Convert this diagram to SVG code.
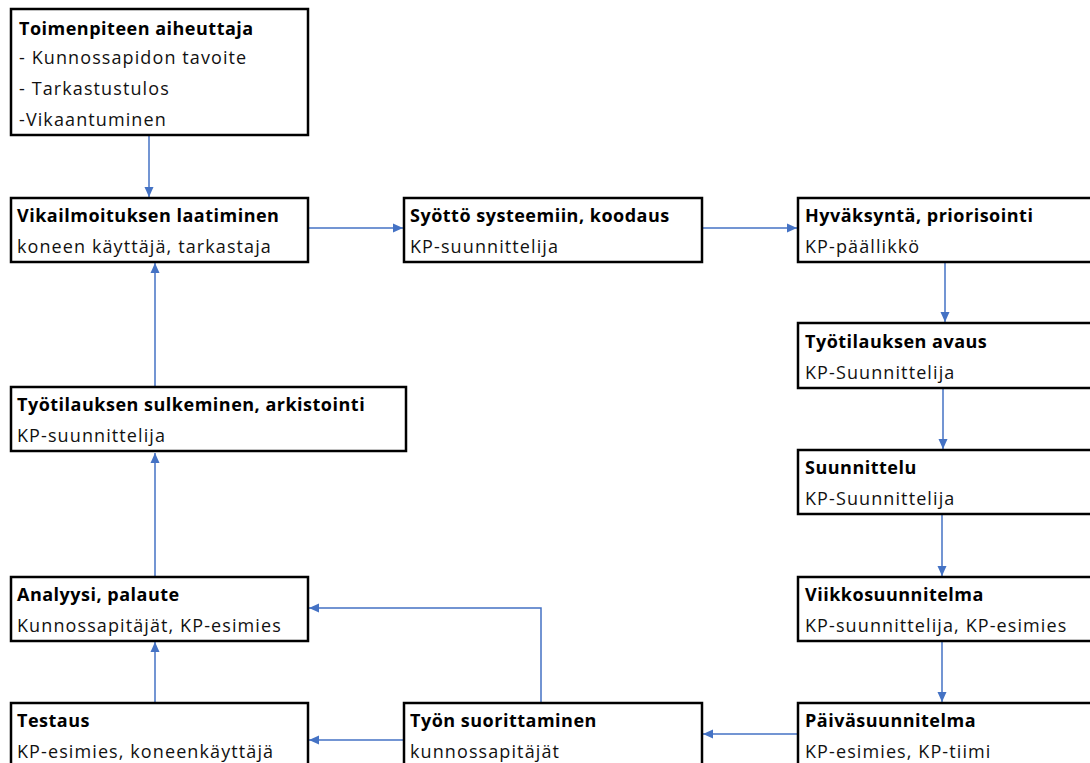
<svg xmlns="http://www.w3.org/2000/svg" width="1090" height="763" viewBox="0 0 1090 763">
<style>
.box{fill:#fff;stroke:#000;stroke-width:2.5}
.t{font-family:"Open Sans","Liberation Sans",sans-serif;font-size:18px;font-weight:bold;fill:#000;letter-spacing:0.5px}
.s{font-family:"Open Sans","Liberation Sans",sans-serif;font-size:18px;fill:#111;letter-spacing:1.1px}
.c{fill:none;stroke:#4472C4;stroke-width:1.5}
</style>
<defs>
<marker id="a" viewBox="0 0 10 10" refX="10" refY="5" markerWidth="10" markerHeight="10" markerUnits="userSpaceOnUse" orient="auto">
<path d="M0,0.5 L10,5 L0,9.5 Z" fill="#4472C4"/>
</marker>
</defs>
<g id="connectors">
<path class="c" d="M149,136 V197" marker-end="url(#a)"/>
<path class="c" d="M309,228 H403" marker-end="url(#a)"/>
<path class="c" d="M703,228 H797" marker-end="url(#a)"/>
<path class="c" d="M945,263 V322" marker-end="url(#a)"/>
<path class="c" d="M943,389 V449" marker-end="url(#a)"/>
<path class="c" d="M942,515 V576" marker-end="url(#a)"/>
<path class="c" d="M942,642 V702" marker-end="url(#a)"/>
<path class="c" d="M797,734 H703" marker-end="url(#a)"/>
<path class="c" d="M403,740 H309" marker-end="url(#a)"/>
<path class="c" d="M541,702 V608 H309" marker-end="url(#a)"/>
<path class="c" d="M155,702 V642" marker-end="url(#a)"/>
<path class="c" d="M155,576 V453" marker-end="url(#a)"/>
<path class="c" d="M155,386 V263" marker-end="url(#a)"/>
</g>
<g id="n1">
<rect class="box" x="11" y="9" width="297" height="126"/>
<text class="t" x="19" y="35">Toimenpiteen aiheuttaja</text>
<text class="s" x="19" y="64">- Kunnossapidon tavoite</text>
<text class="s" x="19" y="95">- Tarkastustulos</text>
<text class="s" x="19" y="126">-Vikaantuminen</text>
</g>
<g id="n2">
<rect class="box" x="11" y="198" width="297" height="64"/>
<text class="t" x="17" y="222">Vikailmoituksen laatiminen</text>
<text class="s" x="17" y="253">koneen käyttäjä, tarkastaja</text>
</g>
<g id="n3">
<rect class="box" x="404" y="198" width="298" height="64"/>
<text class="t" x="410" y="222">Syöttö systeemiin, koodaus</text>
<text class="s" x="410" y="253">KP-suunnittelija</text>
</g>
<g id="n4">
<rect class="box" x="798" y="198" width="300" height="64"/>
<text class="t" x="805" y="222">Hyväksyntä, priorisointi</text>
<text class="s" x="805" y="253">KP-päällikkö</text>
</g>
<g id="n5">
<rect class="box" x="798" y="323" width="300" height="65"/>
<text class="t" x="805" y="348">Työtilauksen avaus</text>
<text class="s" x="805" y="379">KP-Suunnittelija</text>
</g>
<g id="n6">
<rect class="box" x="798" y="450" width="300" height="64"/>
<text class="t" x="805" y="474">Suunnittelu</text>
<text class="s" x="805" y="505">KP-Suunnittelija</text>
</g>
<g id="n7">
<rect class="box" x="798" y="577" width="300" height="64"/>
<text class="t" x="805" y="601">Viikkosuunnitelma</text>
<text class="s" x="805" y="632">KP-suunnittelija, KP-esimies</text>
</g>
<g id="n8">
<rect class="box" x="798" y="703" width="300" height="70"/>
<text class="t" x="805" y="727">Päiväsuunnitelma</text>
<text class="s" x="805" y="758">KP-esimies, KP-tiimi</text>
</g>
<g id="n9">
<rect class="box" x="404" y="703" width="298" height="70"/>
<text class="t" x="410" y="727">Työn suorittaminen</text>
<text class="s" x="410" y="758">kunnossapitäjät</text>
</g>
<g id="n10">
<rect class="box" x="11" y="703" width="297" height="70"/>
<text class="t" x="17" y="727">Testaus</text>
<text class="s" x="17" y="758">KP-esimies, koneenkäyttäjä</text>
</g>
<g id="n11">
<rect class="box" x="11" y="577" width="297" height="64"/>
<text class="t" x="17" y="601">Analyysi, palaute</text>
<text class="s" x="17" y="632">Kunnossapitäjät, KP-esimies</text>
</g>
<g id="n12">
<rect class="box" x="11" y="387" width="395" height="64"/>
<text class="t" x="17" y="411">Työtilauksen sulkeminen, arkistointi</text>
<text class="s" x="17" y="442">KP-suunnittelija</text>
</g>
</svg>
